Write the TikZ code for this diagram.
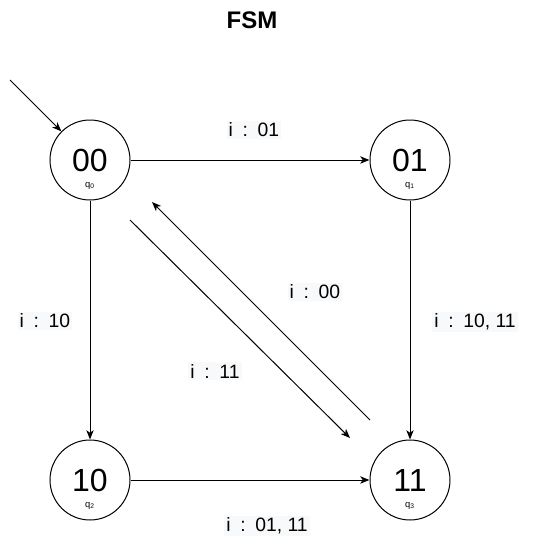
\documentclass[tikz,border=0pt]{standalone}
\usepackage{fontspec}
\setmainfont{Liberation Sans}
\usetikzlibrary{arrows.meta,positioning}
\definecolor{lblbg}{HTML}{F8F9FA}
\begin{document}
\begin{tikzpicture}[
        x=0.75pt, y=-0.75pt,
        state/.style={circle, draw, line width=0.75pt, minimum size=60pt, inner sep=0pt, font=\fontsize{24}{26}\selectfont},
        sub/.style={font=\fontsize{7}{8}\selectfont, inner sep=0pt},
        lbl/.style={fill=lblbg, inner sep=1.5pt, font=\fontsize{14.5}{16}\selectfont},
        trans/.style={draw, line width=0.75pt, -{Stealth[length=7pt,width=5.5pt,inset=2pt]}}
    ]
    \useasboundingbox (0,0) rectangle (541,551);

    \node[font=\bfseries\fontsize{18}{20}\selectfont] (title) at (252,20) {FSM};

    \node[state] (s00) at (90,160) {00};
    \node[state] (s01) at (410,160) {01};
    \node[state] (s10) at (90,480) {10};
    \node[state] (s11) at (410,480) {11};

    \node[sub] (q0) at ([yshift=-26*0.75pt]s00.center) {q\textsubscript{0}};
    \node[sub] (q1) at ([yshift=-26*0.75pt]s01.center) {q\textsubscript{1}};
    \node[sub] (q2) at ([yshift=-26*0.75pt]s10.center) {q\textsubscript{2}};
    \node[sub] (q3) at ([yshift=-26*0.75pt]s11.center) {q\textsubscript{3}};

    \coordinate (start) at (10,80);
    \draw[trans] (start) -- (s00.north west);

    \draw[trans] (s00) -- (s01);
    \draw[trans] (s00) -- (s10);
    \draw[trans] (s01) -- (s11);
    \draw[trans] (s10) -- (s11);
    \draw[trans] ([shift={(40,60)}]s00.center) -- ([shift={(-60,-42)}]s11.center);
    \draw[trans] ([shift={(-40,-60)}]s11.center) -- ([shift={(62,42)}]s00.center);

    \node[lbl] (l01) at (254,130) {i\enspace:\enspace01};
    \node[lbl] (l10) at (45,321) {i\enspace:\enspace10};
    \node[lbl] (l1011) at (475,322) {i\enspace:\enspace10, 11};
    \node[lbl] (l00) at (315,292) {i\enspace:\enspace00};
    \node[lbl] (l11) at (215,371) {i\enspace:\enspace11};
    \node[lbl] (l0111) at (267,526) {i\enspace:\enspace01, 11};
\end{tikzpicture}
\end{document}
